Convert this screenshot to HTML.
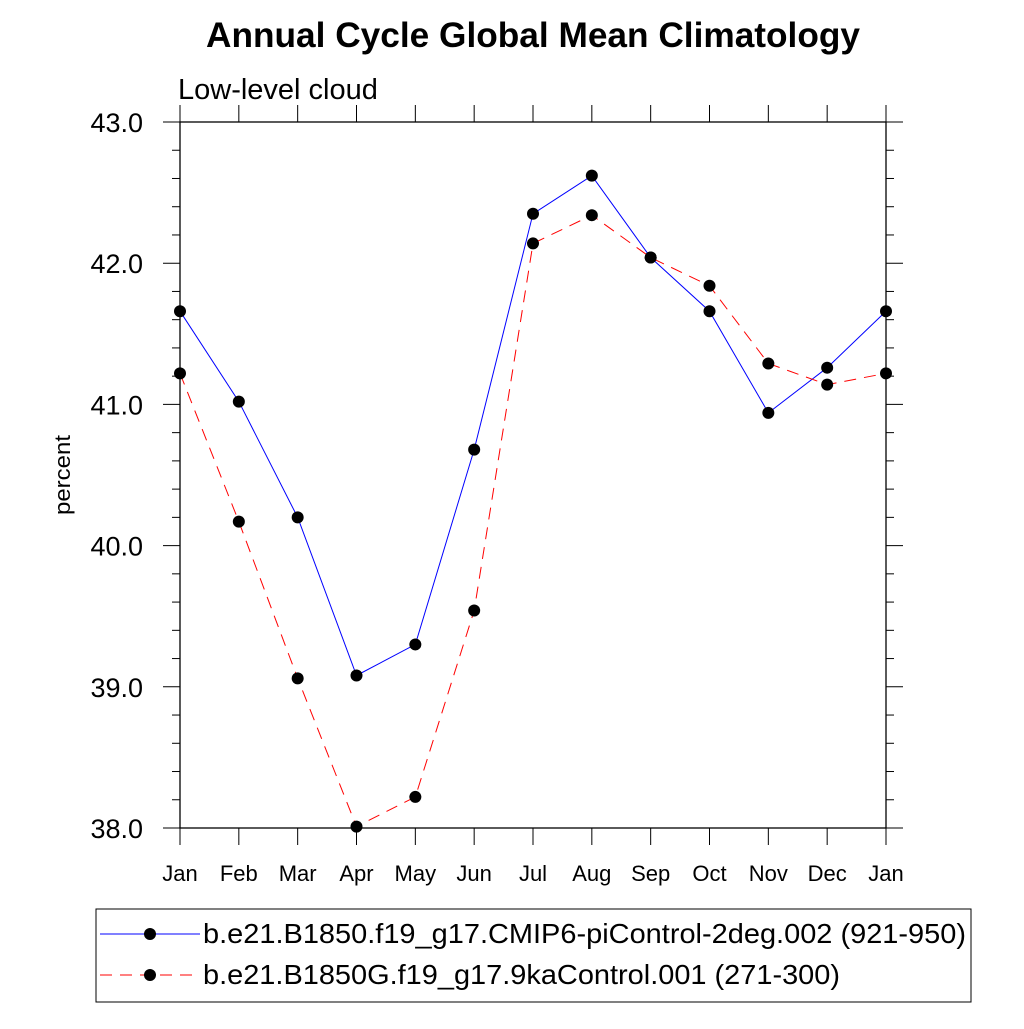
<!DOCTYPE html>
<html><head><meta charset="utf-8"><style>
body{margin:0;background:#fff}
svg text{font-family:"Liberation Sans",sans-serif}
</style></head><body>
<svg width="1024" height="1024" viewBox="0 0 1024 1024" xmlns="http://www.w3.org/2000/svg">
<text x="533" y="47" text-anchor="middle" font-size="35" font-weight="bold" textLength="654" lengthAdjust="spacingAndGlyphs">Annual Cycle Global Mean Climatology</text>
<text x="178" y="99" font-size="29">Low-level cloud</text>
<text transform="translate(70,475) rotate(-90)" text-anchor="middle" font-size="22" textLength="80" lengthAdjust="spacingAndGlyphs">percent</text>
<g id="axes"></g>
<g id="series"></g>
<rect x="96" y="909" width="875" height="93" fill="none" stroke="#000" stroke-width="1"/>
<g>
<line x1="100" y1="934" x2="200" y2="934" stroke="#00f" stroke-width="1"/>
<circle cx="150" cy="934" r="6" fill="#000"/>
<text x="203" y="943" font-size="27.5" textLength="763" lengthAdjust="spacingAndGlyphs">b.e21.B1850.f19_g17.CMIP6-piControl-2deg.002 (921-950)</text>
</g>
<g>
<line x1="100" y1="975" x2="200" y2="975" stroke="#f00" stroke-width="1" stroke-dasharray="12,8"/>
<circle cx="150" cy="975" r="6" fill="#000"/>
<text x="203" y="984" font-size="27.5" textLength="637" lengthAdjust="spacingAndGlyphs">b.e21.B1850G.f19_g17.9kaControl.001 (271-300)</text>
</g>
</svg>
<script>
const months=["Jan","Feb","Mar","Apr","May","Jun","Jul","Aug","Sep","Oct","Nov","Dec","Jan"];
const seriesBlue=[41.66,41.02,40.20,39.08,39.30,40.68,42.35,42.62,42.04,41.66,40.94,41.26,41.66];
const seriesRed=[41.22,40.17,39.06,38.01,38.22,39.54,42.14,42.34,42.04,41.84,41.29,41.14,41.22];
const yTicks=[38,39,40,41,42,43];
const NS="http://www.w3.org/2000/svg";
const L=180,R=886,T=122,B=828,yMin=38,yMax=43;
const xs=i=>L+(R-L)*i/(months.length-1);
const ys=v=>B-(v-yMin)/(yMax-yMin)*(B-T);
function mk(tag,a,parent){const e=document.createElementNS(NS,tag);for(const k in a)e.setAttribute(k,a[k]);parent.appendChild(e);return e;}
const ax=document.getElementById('axes');
const fr=mk('rect',{x:L,y:T,width:R-L,height:B-T,fill:'none',stroke:'#000','stroke-width':1.3},ax);


for(let v=yMin;v<=yMax+1e-9;v+=0.2){
  const major=Math.abs(v-Math.round(v))<1e-6;const y=ys(v);const len=major?17:8;
  mk('line',{x1:L-len,y1:y,x2:L,y2:y,stroke:'#000'},ax);
  mk('line',{x1:R,y1:y,x2:R+len,y2:y,stroke:'#000'},ax);
}
yTicks.forEach(v=>{const t=mk('text',{x:143,y:ys(v)+10,'text-anchor':'end','font-size':27},ax);t.textContent=v.toFixed(1);

});
months.forEach((m,i)=>{const x=xs(i);
  mk('line',{x1:x,y1:B,x2:x,y2:B+17,stroke:'#000'},ax);
  mk('line',{x1:x,y1:T-17,x2:x,y2:T,stroke:'#000'},ax);
  const t=mk('text',{x:x,y:B+53,'text-anchor':'middle','font-size':22},ax);t.textContent=m;
  
  });
const sg=document.getElementById('series');
function draw(data,color,dash,name){
  const g=mk('g',{},sg);
  
  
  const pts=data.map((v,i)=>xs(i)+','+ys(v)).join(' ');
  const a={points:pts,fill:'none',stroke:color,'stroke-width':1};if(dash)a['stroke-dasharray']=dash;
  mk('polyline',a,g);
  data.forEach((v,i)=>{const c=mk('circle',{cx:xs(i),cy:ys(v),r:6,fill:'#000'},g);
    
    });
}
draw(seriesBlue,'#00f',null,'series-picontrol');
draw(seriesRed,'#f00','12,8','series-9ka');
</script>
</body></html>
